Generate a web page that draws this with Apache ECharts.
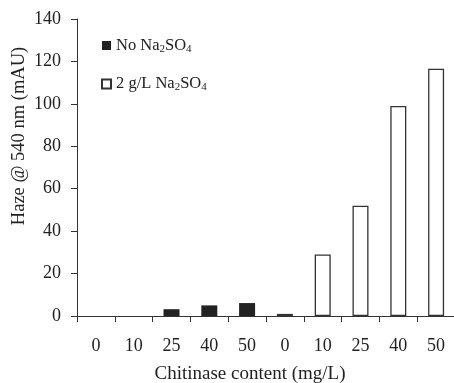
<!DOCTYPE html>
<html><head><meta charset="utf-8">
<script src="https://cdn.jsdelivr.net/npm/echarts@6/dist/echarts.min.js"></script>
<style>html,body{margin:0;padding:0;background:#fff}#c{width:454px;height:383px}</style>
</head><body><div id="c"></div>
<script>
const categories = ['0','10','25','40','50','0','10','25','40','50'];
const noSalt = [0, 0, 3.2, 5.0, 6.1, null, null, null, null, null];
const withSalt = [null, null, null, null, null, 1, 29, 52, 99, 116.6];
const yTicks = [0, 20, 40, 60, 80, 100, 120, 140];

const font = 'Liberation Serif';
const rich = {
  a: {fontFamily: font, fontSize: 16.5, color: '#222'},
  s: {fontFamily: font, fontSize: 11, color: '#222', padding: [7, 0, 0, 0]}
};
const chart = echarts.init(document.getElementById('c'));
chart.setOption({
  animation: false,
  grid: {left: 77, top: 19, width: 378, height: 297, containLabel: false, outerBoundsMode: 'none'},
  legend: {
    left: 101, top: 37, orient: 'vertical', itemGap: 21, padding: 0,
    itemWidth: 9, itemHeight: 9,
    data: [
      {name: 'No', icon: 'rect'},
      {name: '2g', icon: 'rect'}
    ],
    formatter: function (n) {
      return n === 'No' ? '{a|No Na}{s|2}{a|SO}{s|4}' : '{a|2 g/L Na}{s|2}{a|SO}{s|4}';
    },
    textStyle: {rich: rich, padding: [0, 0, 0, 0]}
  },
  graphic: [{
    type: 'text', x: 19, y: 136, rotation: Math.PI / 2,
    style: {text: 'Haze @ 540 nm (mAU)', fontFamily: font, fontSize: 18.5, fill: '#222',
            align: 'center', verticalAlign: 'middle'}
  }, {
    type: 'text', x: 250, y: 374,
    style: {text: 'Chitinase content (mg/L)', fontFamily: font, fontSize: 19, fill: '#222',
            align: 'center', verticalAlign: 'middle'}
  }],
  xAxis: {
    type: 'category', data: categories,
    axisLine: {lineStyle: {color: '#333', width: 1}},
    axisTick: {show: true, length: 6, inside: false, lineStyle: {color: '#333'}},
    axisLabel: {fontFamily: font, fontSize: 18, color: '#222', margin: 21}
  },
  yAxis: {
    type: 'value', min: yTicks[0], max: yTicks[yTicks.length - 1], interval: 20,
    splitLine: {show: false},
    axisLine: {show: true, lineStyle: {color: '#333', width: 1}},
    axisTick: {show: true, length: 6, lineStyle: {color: '#333'}},
    axisLabel: {fontFamily: font, fontSize: 18, color: '#222', margin: 16}
  },
  series: [
    {name: 'No', type: 'bar', data: noSalt, barWidth: 16, barGap: '-100%',
     itemStyle: {color: '#222', borderWidth: 0}},
    {name: '2g', type: 'bar', data: withSalt, barWidth: 16, barGap: '-100%',
     itemStyle: {color: '#fff', borderColor: '#333', borderWidth: 1.3}}
  ]
});
</script></body></html>
